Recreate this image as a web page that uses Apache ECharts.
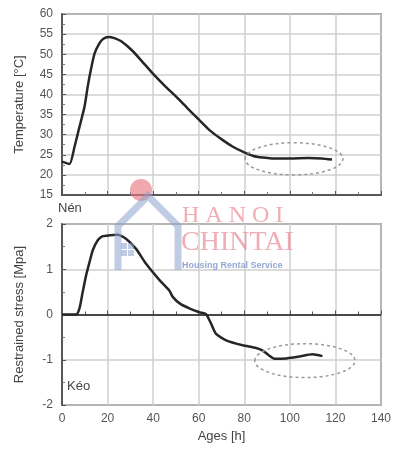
<!DOCTYPE html>
<html><head><meta charset="utf-8">
<script src="https://cdn.jsdelivr.net/npm/echarts@6/dist/echarts.min.js"></script>
<style>html,body{margin:0;padding:0;background:#fff}#c{width:400px;height:455px}</style>
</head><body><div id="c"></div>
<script>
// ---- data ----
var tempAges = [0, 3.3, 5.5, 7.7, 9.9, 11.3, 12.8, 14.3, 16.4, 18, 20.4, 23, 26, 31, 35, 39.7, 45, 50.2, 55, 60.3, 65, 70.4, 75, 80, 84, 88, 92, 100, 108, 114, 118.5];
var tempValues = [23.3, 22.7, 27, 32, 37, 42, 46.5, 50.2, 52.7, 53.8, 54.3, 54, 53.2, 50.8, 48.3, 45.3, 42.2, 39.4, 36.6, 33.6, 31, 28.7, 27, 25.6, 24.7, 24.3, 24.1, 24.1, 24.2, 24.1, 23.8];
var stressAges = [0, 6.2, 7.7, 9.1, 10.6, 12.1, 13.5, 15.7, 17.9, 21, 24.5, 28.2, 32.5, 36.9, 42.8, 47.1, 48.6, 51.8, 56.1, 60.3, 63.2, 65.4, 67.6, 72, 79.3, 85.2, 88.1, 91, 93.2, 98.5, 104.2, 109.9, 114.3];
var stressValues = [0, 0, 0.14, 0.5, 0.87, 1.16, 1.42, 1.64, 1.73, 1.75, 1.76, 1.67, 1.45, 1.12, 0.76, 0.53, 0.39, 0.24, 0.13, 0.05, 0.01, -0.2, -0.43, -0.57, -0.68, -0.74, -0.8, -0.91, -0.98, -0.97, -0.93, -0.88, -0.92];
var xTicks = [0, 20, 40, 60, 80, 100, 120, 140];
var tempTicks = [15, 20, 25, 30, 35, 40, 45, 50, 55, 60];
var stressTicks = [-2, -1, 0, 1, 2];
// annotation ellipses: [centerAge, centerValue, radiusAge, radiusValue]
var tempEllipse = [101.8, 24, 21.5, 4];
var stressEllipse = [106.6, -1.02, 22, 0.375];

function pairs(xs, ys) { return xs.map(function (x, i) { return [x, ys[i]]; }); }

var chart = echarts.init(document.getElementById('c'));
var font = 'Liberation Sans, Arial, sans-serif';
var labelStyle = { color: '#555', fontSize: 12, fontFamily: font };
var gridLine = { show: true, lineStyle: { color: '#cfcfcf', width: 1.5 } };

chart.setOption({
  animation: false,
  grid: [
    { left: 62, top: 14, width: 319, height: 181, show: true, borderColor: '#3a3a3a', borderWidth: 1.5, backgroundColor: 'transparent' },
    { left: 62, top: 224, width: 319, height: 181, show: true, borderColor: '#3a3a3a', borderWidth: 1.5, backgroundColor: 'transparent' }
  ],
  xAxis: [
    { gridIndex: 0, type: 'value', min: xTicks[0], max: xTicks[xTicks.length - 1], interval: 20,
      axisLabel: { show: false }, axisLine: { show: true, lineStyle: { color: '#3a3a3a', width: 1.5 } },
      axisTick: { show: true, inside: true, length: 4, lineStyle: { color: '#555' } },
      minorTick: { show: true, splitNumber: 2, length: 3, lineStyle: { color: '#777' } },
      splitLine: gridLine },
    { gridIndex: 1, type: 'value', min: xTicks[0], max: xTicks[xTicks.length - 1], interval: 20,
      name: 'Ages [h]', nameLocation: 'middle', nameGap: 25,
      nameTextStyle: { color: '#444', fontSize: 13, fontFamily: font },
      axisLabel: labelStyle, axisLine: { show: true, lineStyle: { color: '#8a8a8a', width: 1.5 } },
      axisTick: { show: true, inside: true, length: 4, lineStyle: { color: '#555' } },
      minorTick: { show: true, splitNumber: 2, length: 3, lineStyle: { color: '#555' } },
      splitLine: gridLine }
  ],
  yAxis: [
    { gridIndex: 0, type: 'value', min: tempTicks[0], max: tempTicks[tempTicks.length - 1], interval: 5,
      name: 'Temperature [\u00B0C]', nameLocation: 'middle', nameGap: 36,
      nameTextStyle: { color: '#444', fontSize: 13, fontFamily: font },
      axisLabel: { color: '#555', fontSize: 12, fontFamily: font, margin: 9 },
      axisLine: { show: true, lineStyle: { color: '#3a3a3a', width: 1.5 } },
      axisTick: { show: true, inside: true, length: 4, lineStyle: { color: '#555' } },
      minorTick: { show: true, splitNumber: 2, length: 3, lineStyle: { color: '#777' } },
      splitLine: gridLine },
    { gridIndex: 1, type: 'value', min: stressTicks[0], max: stressTicks[stressTicks.length - 1], interval: 1,
      name: 'Restrained stress [Mpa]', nameLocation: 'middle', nameGap: 36,
      nameTextStyle: { color: '#444', fontSize: 13, fontFamily: font },
      axisLabel: { color: '#555', fontSize: 12, fontFamily: font, margin: 9 },
      axisLine: { show: true, lineStyle: { color: '#3a3a3a', width: 1.5 } },
      axisTick: { show: true, inside: true, length: 4, lineStyle: { color: '#555' } },
      minorTick: { show: true, splitNumber: 2, length: 3, lineStyle: { color: '#777' } },
      splitLine: gridLine }
  ],
  series: [
    { type: 'line', xAxisIndex: 0, yAxisIndex: 0, data: pairs(tempAges, tempValues), smooth: 0.2,
      showSymbol: false, lineStyle: { color: '#262626', width: 2.5 } },
    { type: 'line', xAxisIndex: 1, yAxisIndex: 1, data: pairs(stressAges, stressValues), smooth: 0.2,
      showSymbol: false, lineStyle: { color: '#262626', width: 2.5 },
      markLine: { silent: true, symbol: 'none', label: { show: false },
        lineStyle: { color: '#2a2a2a', width: 1.5, type: 'solid' }, data: [{ yAxis: 0 }] } }
  ]
});

function ellipseGraphic(e, xi, yi) {
  var c = chart.convertToPixel({ xAxisIndex: xi, yAxisIndex: yi }, [e[0], e[1]]);
  var r = chart.convertToPixel({ xAxisIndex: xi, yAxisIndex: yi }, [e[0] + e[2], e[1] + e[3]]);
  return { type: 'ellipse', z: 10, shape: { cx: c[0], cy: c[1], rx: Math.abs(r[0] - c[0]), ry: Math.abs(c[1] - r[1]) },
    style: { fill: 'none', stroke: '#9a9a9a', lineWidth: 1.5, lineDash: [3, 3] } };
}

chart.setOption({
  graphic: [
    ellipseGraphic(tempEllipse, 0, 0),
    ellipseGraphic(stressEllipse, 1, 1),
    { type: 'text', left: 58, top: 202, z: 10, style: { text: 'N\u00E9n', fill: '#444', font: '13px ' + font } },
    { type: 'text', left: 67, top: 380, z: 10, style: { text: 'K\u00E9o', fill: '#444', font: '13px ' + font } },
    // watermark
    { type: 'circle', z: 5, shape: { cx: 141, cy: 190, r: 11 }, style: { fill: 'rgba(232,120,130,0.65)' } },
    { type: 'polyline', z: 5, shape: { points: [[118, 270], [118, 226], [148, 196], [178, 226], [178, 270]] },
      style: { stroke: 'rgba(140,160,205,0.55)', lineWidth: 7, fill: 'none' } },
    { type: 'rect', z: 5, shape: { x: 121, y: 243, width: 6, height: 6 }, style: { fill: 'rgba(140,160,205,0.55)' } },
    { type: 'rect', z: 5, shape: { x: 128, y: 243, width: 6, height: 6 }, style: { fill: 'rgba(140,160,205,0.55)' } },
    { type: 'rect', z: 5, shape: { x: 121, y: 250, width: 6, height: 6 }, style: { fill: 'rgba(140,160,205,0.55)' } },
    { type: 'rect', z: 5, shape: { x: 128, y: 250, width: 6, height: 6 }, style: { fill: 'rgba(140,160,205,0.55)' } },
    { type: 'text', left: 182, top: 204, z: 5, style: { text: 'H A N O I', fill: 'rgba(232,140,150,0.7)', font: '24px Liberation Serif, serif' } },
    { type: 'text', left: 181, top: 229, z: 5, style: { text: 'CHINTAI', fill: 'rgba(232,140,150,0.7)', font: '28px Liberation Serif, serif' } },
    { type: 'text', left: 182, top: 261, z: 5, style: { text: 'Housing Rental Service', fill: 'rgba(120,145,200,0.8)', font: 'bold 9px ' + font } }
  ]
});
</script></body></html>
